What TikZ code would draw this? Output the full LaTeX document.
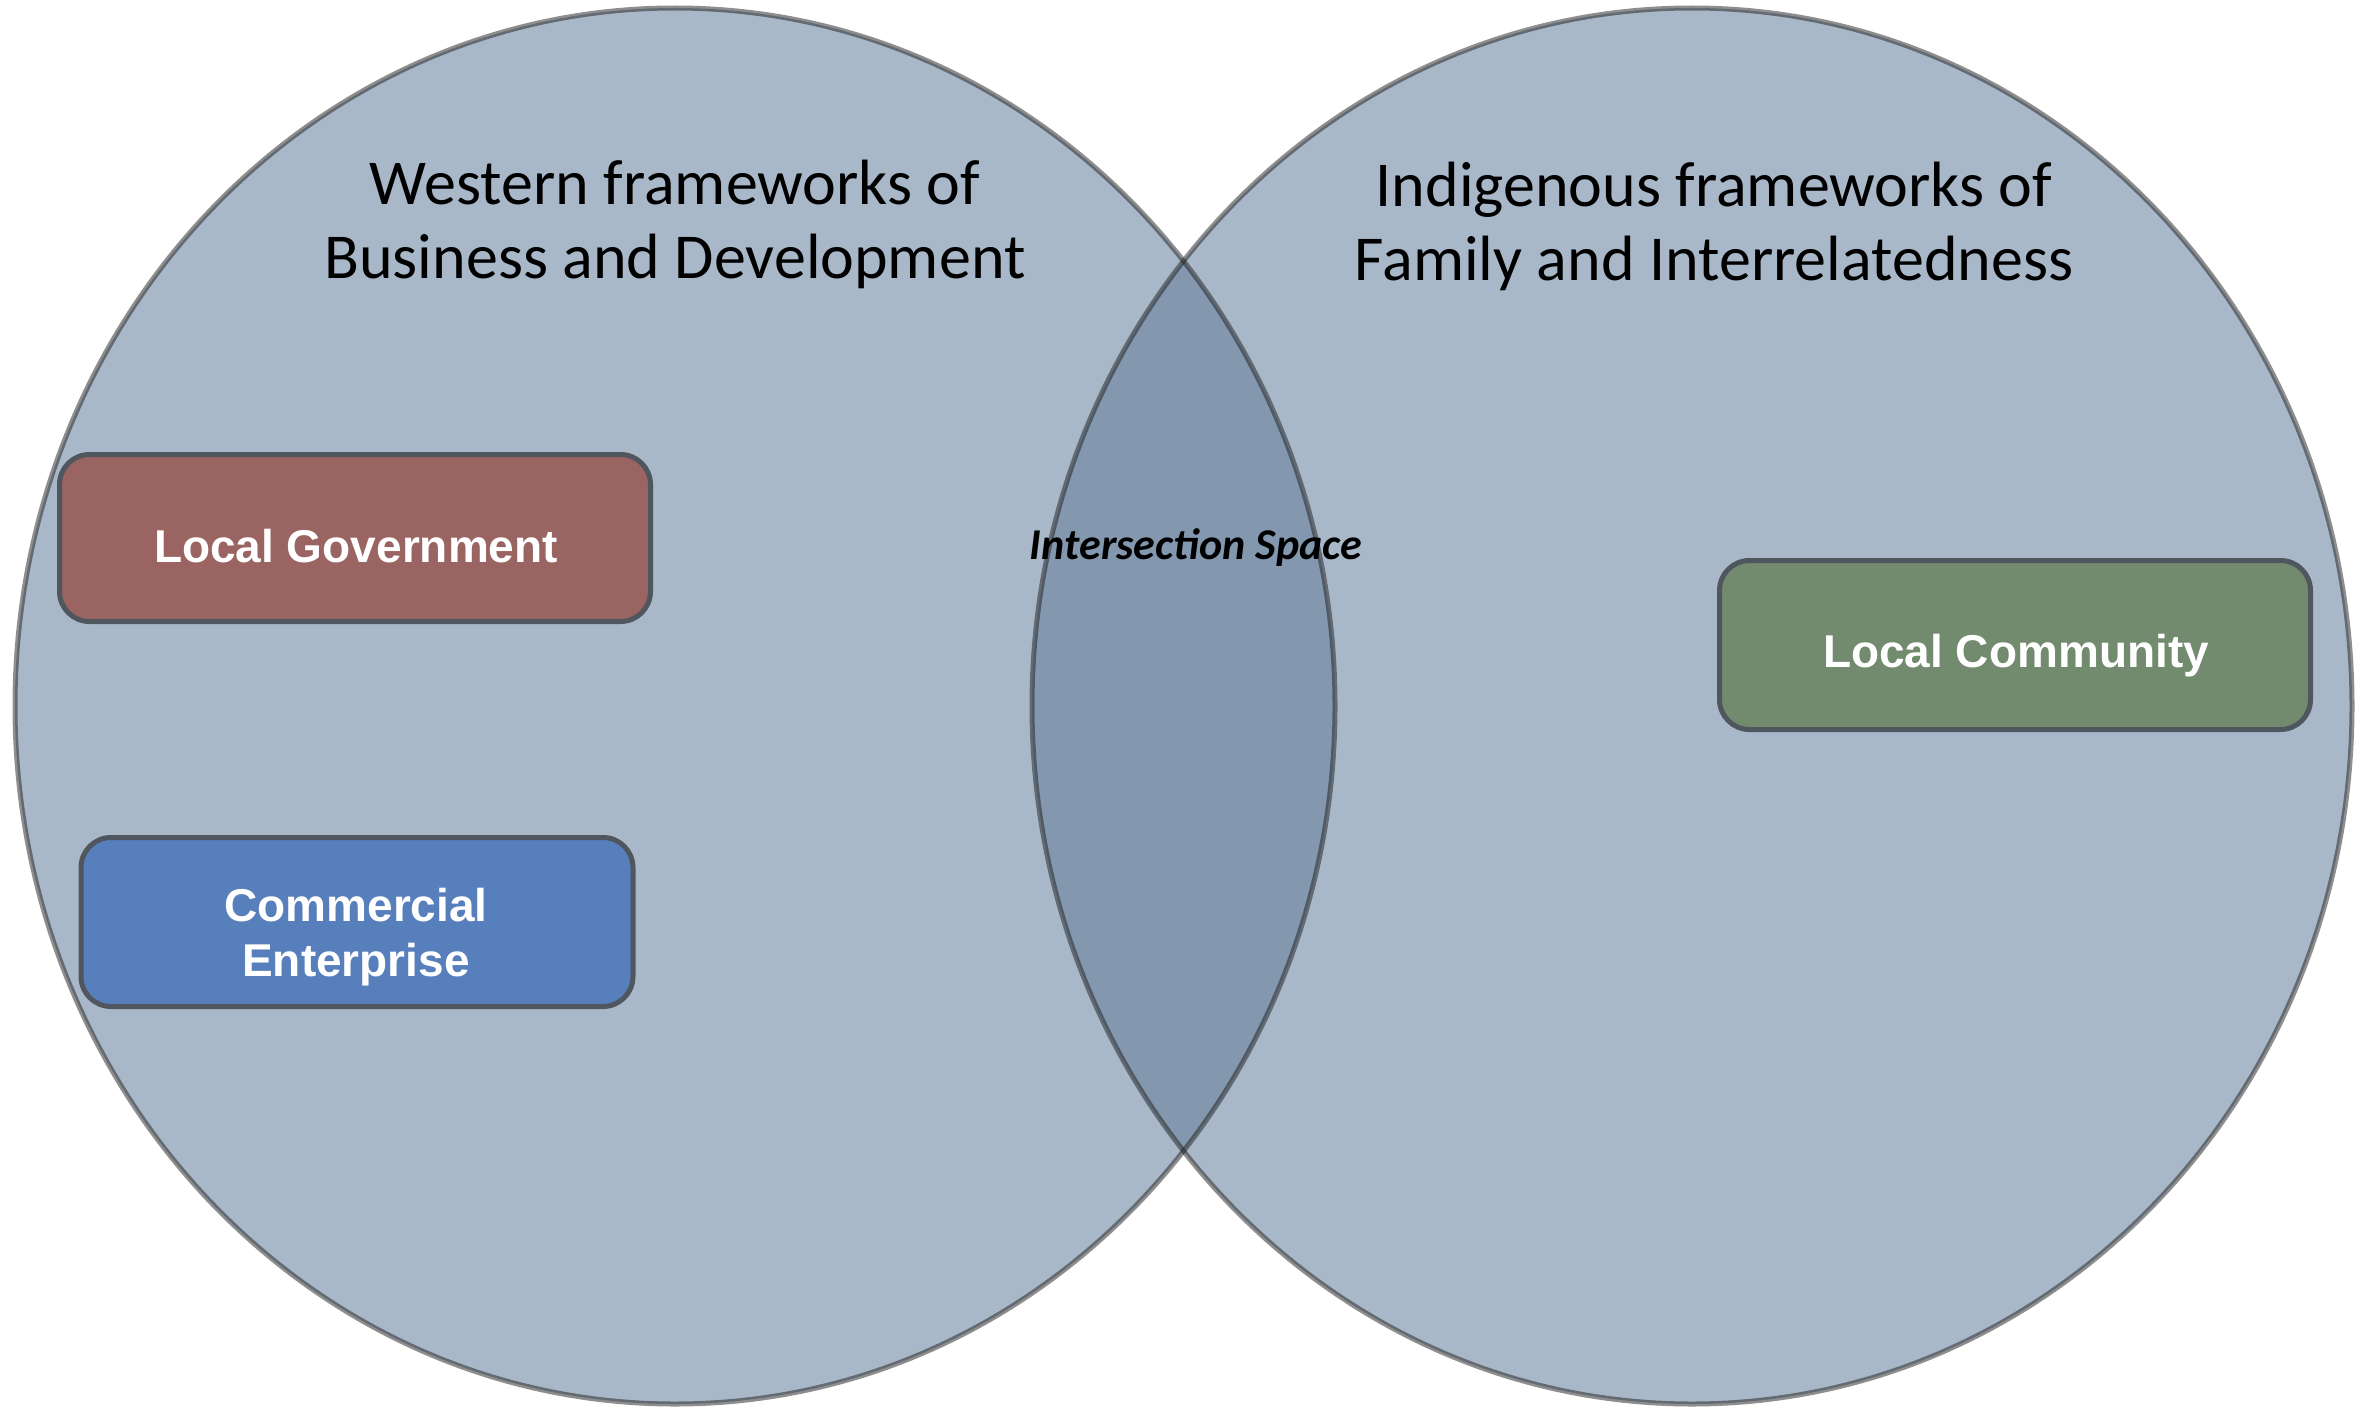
\documentclass[tikz,border=0pt]{standalone}
\usepackage{fontspec}
\setmainfont{Carlito}
\newfontfamily\boxfont{Liberation Sans}
\usetikzlibrary{positioning}
\definecolor{setfill}{RGB}{100,126,155}
\definecolor{setline}{RGB}{30,30,30}
\definecolor{boxline}{RGB}{80,86,94}
\definecolor{govred}{RGB}{154,100,98}
\definecolor{comblue}{RGB}{87,127,187}
\definecolor{comgreen}{RGB}{114,138,110}
\tikzset{
  setfillstyle/.style={fill=setfill, fill opacity=0.55},
  setlinestyle/.style={draw=setline, draw opacity=0.5, line width=5pt},
  actor/.style={draw=boxline, line width=5pt, rounded corners=30pt, inner sep=0pt},
  actortext/.style={text=white, font=\boxfont\bfseries\fontsize{46}{55}\selectfont,
    align=center, inner sep=0pt},
  settitle/.style={font=\fontsize{64}{74}\selectfont, align=center, text=black},
}
\begin{document}
\begin{tikzpicture}[x=1pt,y=-1pt]
\fill[white] (0,0) rectangle (2364,1413);
\useasboundingbox (0,0) rectangle (2364,1413);
% the two sets
\path[setfillstyle] (675,706) ellipse [x radius=660, y radius=698];
\path[setfillstyle] (1692,706) ellipse [x radius=660, y radius=698];
\path[setlinestyle] (675,706) ellipse [x radius=660, y radius=698];
\path[setlinestyle] (1692,706) ellipse [x radius=660, y radius=698];
% titles
\node[settitle] (west) at (675,224) {Western frameworks of\\Business and Development};
\node[settitle] (indig) at (1714,226) {Indigenous frameworks of\\Family and Interrelatedness};
% intersection label
\node[font=\bfseries\itshape\fontsize{44}{50}\selectfont, text=black] (inter) at (1196,548) {Intersection Space};
% actors
\node[actor, fill=govred, minimum width=591pt, minimum height=167pt] (gov) at (355,538) {};
\node[actortext] (govtext) at (356,546) {Local Government};
\node[actor, fill=comblue, minimum width=552pt, minimum height=169pt] (com) at (357,922) {};
\node[actortext] (comtext) at (356,937) {Commercial\\Enterprise};
\node[actor, fill=comgreen, minimum width=591pt, minimum height=169pt] (comm) at (2015,645) {};
\node[actortext] (commtext) at (2016,656) {Local Community};
\end{tikzpicture}
\end{document}
